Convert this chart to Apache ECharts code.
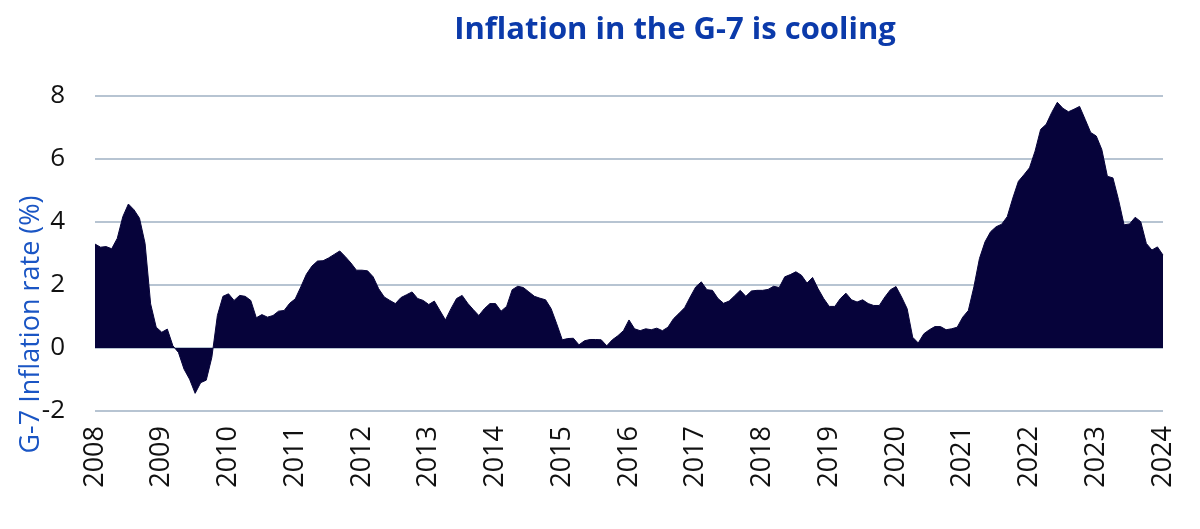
<!DOCTYPE html>
<html>
<head>
<meta charset="utf-8">
<title>Inflation in the G-7 is cooling</title>
<script src="https://cdn.jsdelivr.net/npm/echarts@6/dist/echarts.min.js"></script>
<style>
  html, body { margin: 0; padding: 0; background: #fff; }
  #container { width: 1200px; height: 529px; }
</style>
</head>
<body>
<div id="container"></div>
<script>
// ticks on the x axis, one per january
var years = ['2008','2009','2010','2011','2012','2013','2014','2015','2016','2017','2018','2019','2020','2021','2022','2023','2024'];

// G-7 inflation rate (%), monthly
var infl2008 = [3.30, 3.20, 3.22, 3.15, 3.48, 4.17, 4.57, 4.39, 4.12, 3.32, 1.40, 0.66];
var infl2009 = [0.50, 0.60, 0.07, -0.14, -0.67, -0.99, -1.44, -1.10, -1.02, -0.30, 1.03, 1.64];
var infl2010 = [1.72, 1.51, 1.67, 1.64, 1.51, 0.96, 1.06, 0.98, 1.03, 1.17, 1.19, 1.42];
var infl2011 = [1.56, 1.94, 2.34, 2.60, 2.76, 2.77, 2.86, 2.97, 3.08, 2.90, 2.70, 2.47];
var infl2012 = [2.47, 2.45, 2.26, 1.88, 1.62, 1.51, 1.41, 1.60, 1.69, 1.78, 1.57, 1.51];
var infl2013 = [1.38, 1.49, 1.19, 0.89, 1.25, 1.57, 1.67, 1.42, 1.22, 1.03, 1.25, 1.41];
var infl2014 = [1.41, 1.17, 1.32, 1.85, 1.96, 1.92, 1.78, 1.64, 1.58, 1.53, 1.25, 0.77];
var infl2015 = [0.26, 0.30, 0.31, 0.10, 0.23, 0.27, 0.27, 0.26, 0.07, 0.26, 0.39, 0.55];
var infl2016 = [0.89, 0.61, 0.55, 0.61, 0.58, 0.63, 0.55, 0.66, 0.93, 1.10, 1.28, 1.62];
var infl2017 = [1.94, 2.10, 1.85, 1.83, 1.57, 1.42, 1.49, 1.66, 1.83, 1.64, 1.81, 1.83];
var infl2018 = [1.83, 1.86, 1.96, 1.92, 2.26, 2.33, 2.42, 2.31, 2.06, 2.24, 1.88, 1.57];
var infl2019 = [1.32, 1.32, 1.57, 1.74, 1.53, 1.46, 1.53, 1.41, 1.35, 1.35, 1.62, 1.85];
var infl2020 = [1.95, 1.62, 1.25, 0.34, 0.16, 0.45, 0.58, 0.68, 0.68, 0.58, 0.61, 0.66];
var infl2021 = [0.98, 1.19, 1.94, 2.84, 3.37, 3.69, 3.85, 3.93, 4.17, 4.76, 5.29, 5.50];
var infl2022 = [5.72, 6.25, 6.94, 7.10, 7.48, 7.80, 7.61, 7.50, 7.58, 7.67, 7.26, 6.84];
var infl2023 = [6.73, 6.30, 5.45, 5.40, 4.71, 3.91, 3.94, 4.15, 4.01, 3.32, 3.11, 3.21];
var infl2024 = [2.95];

var yTicks = [-2, 0, 2, 4, 6, 8];

var values = [].concat(infl2008, infl2009, infl2010, infl2011, infl2012, infl2013,
    infl2014, infl2015, infl2016, infl2017, infl2018, infl2019, infl2020,
    infl2021, infl2022, infl2023, infl2024);

// month categories "2008-01" ... built from the year ticks
var months = [];
for (var i = 0; i < values.length; i++) {
    var yr = years[Math.floor(i / 12)];
    var mo = (i % 12) + 1;
    months.push(yr + '-' + (mo < 10 ? '0' + mo : mo));
}

var dom = document.getElementById("container");
var myChart = echarts.init(dom);

var option = {
    animation: false,
    title: {
        text: 'Inflation in the G-7 is cooling',
        left: 670,
        top: 10,
        textAlign: 'center',
        textStyle: {
            color: '#0b3aaa',
            fontFamily: 'Open Sans',
            fontWeight: 'bold',
            fontSize: 31
        }
    },
    grid: {
        left: 95,
        right: 37,
        top: 96,
        bottom: 118,
        containLabel: false,
        outerBoundsMode: 'none'
    },
    xAxis: {
        type: 'category',
        boundaryGap: false,
        data: months,
        axisLine: { show: false, onZero: false },
        axisTick: { show: false },
        splitLine: { show: false },
        axisLabel: {
            interval: 11,
            rotate: 90,
            margin: 15,
            color: '#111111',
            fontFamily: 'Open Sans',
            fontSize: 27,
            formatter: function (v) { return v.slice(0, 4); }
        }
    },
    yAxis: {
        type: 'value',
        min: yTicks[0],
        max: yTicks[yTicks.length - 1],
        interval: 2,
        name: 'G-7 Inflation rate (%)',
        nameLocation: 'middle',
        nameGap: 50,
        nameMoveOverlap: false,
        nameTextStyle: {
            color: '#1a55c4',
            fontFamily: 'Open Sans',
            fontSize: 27,
            padding: [0, 142, 0, 0]
        },
        axisLine: { show: false },
        axisTick: { show: false },
        axisLabel: {
            margin: 30,
            color: '#111111',
            fontFamily: 'Open Sans',
            fontSize: 26
        },
        splitLine: {
            lineStyle: { color: '#b7c4d2', width: 2 }
        }
    },
    series: [
        {
            name: 'G-7 inflation',
            type: 'line',
            data: values,
            showSymbol: false,
            smooth: false,
            color: '#06033a',
            lineStyle: { width: 1, color: '#06033a' },
            areaStyle: { color: '#06033a', opacity: 1 }
        }
    ]
};

if (option && typeof option === "object") {
    myChart.setOption(option, true);
}
</script>
</body>
</html>
